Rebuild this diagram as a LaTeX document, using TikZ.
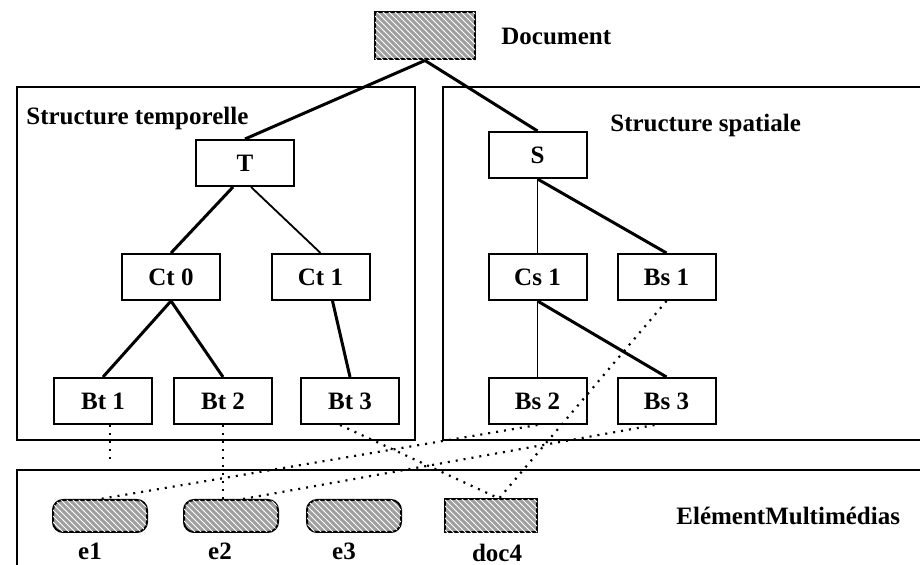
\documentclass[tikz,border=0pt]{standalone}
\usepackage{fontspec}
\setmainfont{Liberation Serif}
\usetikzlibrary{positioning,patterns}

\begin{document}
\begin{tikzpicture}[
    x=0.5pt, y=-0.5pt,
    font=\bfseries\fontsize{12.5}{14}\selectfont,
    box/.style={rectangle, draw, line width=1pt, minimum width=49pt, minimum height=23pt, inner sep=0pt},
    hatched/.style={draw, line width=1pt, fill=gray!75, postaction={pattern=north west lines, pattern color=white}},
    media/.style={hatched, rounded corners=5pt, minimum width=47pt, minimum height=16pt, inner sep=0pt},
    frame/.style={line width=1pt},
    branch/.style={line width=1.5pt},
    twig/.style={line width=0.9pt},
    ref/.style={line width=1.1pt, dash pattern=on 1pt off 3pt},
    caption/.style={inner sep=0pt}
]
    \clip (0,0) rectangle (920,565);

    \node[box, hatched, minimum width=50pt, minimum height=23.5pt] (doc) at (425,36) {};
    \node[caption, right=12.5pt of doc] (doclbl) {Document};

    % Frames
    \draw[frame] (17,87) rectangle (415,440);
    \draw[frame] (443,87) rectangle (930,440);
    \draw[frame] (17,470) rectangle (930,580);
    \node[caption, anchor=base west] (tlbl) at (26,125) {Structure temporelle};
    \node[caption, anchor=base west] (slbl) at (610,132) {Structure spatiale};

    % Temporal tree
    \node[box] (T) at (245,163) {T};
    \node[box, below=33pt of T, xshift=-37pt] (ct0) {Ct 0};
    \node[box, below=33pt of T, xshift=37.75pt] (ct1) {Ct 1};
    \node[box, below=38pt of ct0, xshift=-34pt] (bt1) {Bt 1};
    \node[box, below=38pt of ct0, xshift=26pt] (bt2) {Bt 2};
    \node[box, below=38pt of ct1, xshift=14.75pt] (bt3) {Bt 3};

    % Spatial tree
    \node[box] (S) at (537.5,155) {S};
    \node[box, below=37pt of S] (cs1) {Cs 1};
    \node[box, right=14.5pt of cs1] (bs1) {Bs 1};
    \node[box, below=38pt of cs1] (bs2) {Bs 2};
    \node[box, right=14.5pt of bs2] (bs3) {Bs 3};

    % Elements
    \node[media] (e1) at (100,516) {};
    \node[media, right=17.5pt of e1] (e2) {};
    \node[media, right=13.5pt of e2] (e3) {};
    \node[hatched, minimum width=46pt, minimum height=16.5pt, inner sep=0pt, right=21pt of e3] (doc4) {};
    \node[caption, right=69pt of doc4] (mmlbl) {ElémentMultimédias};
    \node[caption, below=5pt of e1, xshift=-5pt] (e1lbl) {e1};
    \node[caption, below=5pt of e2, xshift=-5.5pt] (e2lbl) {e2};
    \node[caption, below=5pt of e3, xshift=-5pt] (e3lbl) {e3};
    \node[caption, below=5pt of doc4, xshift=3pt] (doc4lbl) {doc4};

    \draw[branch] (doc.south) -- (T.north);
    \draw[branch] (doc.south) -- (S.north);
    \draw[branch] ([xshift=-6pt]T.south) -- (ct0.north);
    \draw[twig] ([xshift=3pt]T.south) -- (ct1.north);
    \draw[branch] (ct0.south) -- (bt1.north);
    \draw[branch] (ct0.south) -- (bt2.north);
    \draw[branch] ([xshift=6pt]ct1.south) -- (bt3.north);
    \draw[twig] (S.south) -- (cs1.north);
    \draw[branch] (S.south) -- (bs1.north);
    \draw[twig] (cs1.south) -- (bs2.north);
    \draw[branch] (cs1.south) -- (bs3.north);

    % Links to the media
    \coordinate (stub) at (110,462);
    \draw[ref] (bt1.south -| stub) -- (stub);
    \draw[ref] (bt2.south) -- (bt2.south |- e2.north);
    \draw[ref] ([xshift=-5pt]bt3.south) -- ([xshift=4pt]doc4.north);
    \draw[ref] (bs1.south) -- ([xshift=4pt]doc4.north);
    \draw[ref] (bs2.south) -- (e1.north);
    \draw[ref] ([xshift=-6pt]bs3.south) -- ([xshift=6pt]e2.north);

\end{tikzpicture}
\end{document}
